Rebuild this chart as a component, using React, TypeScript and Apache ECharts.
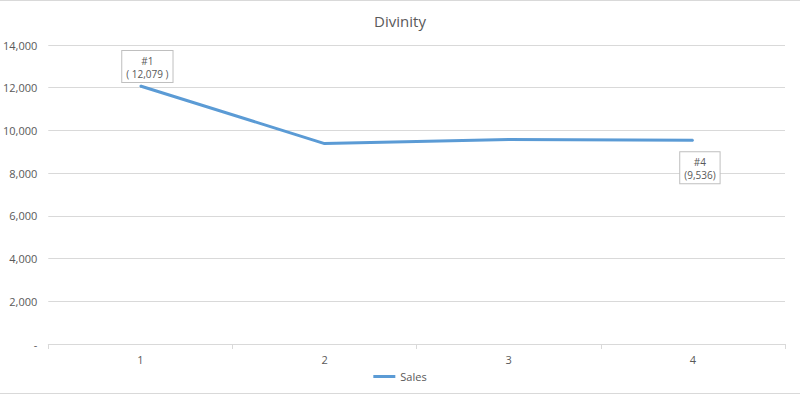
import React, { useEffect, useRef } from "react";
import * as echarts from "echarts";

const categories = ["1", "2", "3", "4"];
const salesValues = [12079, 9385, 9580, 9536];
const seriesName = "Sales";
const titleText = "Divinity";
const yMin = 0;
const yMax = 14000;
const yInterval = 2000;

const fmt = (v: number) => (v === 0 ? "-" : v.toLocaleString("en-US"));

export default function App() {
  const ref = useRef<HTMLDivElement>(null);
  useEffect(() => {
    if (!ref.current) return;
    const chart = echarts.init(ref.current, null, { renderer: "svg" });
    const font = "'Open Sans', 'Noto Sans', sans-serif";
    const last = salesValues.length - 1;
    chart.setOption({
      animation: false,
      textStyle: { fontFamily: font },
      title: {
        text: titleText,
        left: "center",
        top: 8,
        textStyle: { fontSize: 15, fontWeight: "normal", color: "#595959", fontFamily: font },
      },
      legend: {
        bottom: 8,
        left: "center",
        data: [{ name: seriesName, icon: "rect" }],
        itemWidth: 22,
        itemHeight: 3,
        itemGap: 4,
        textStyle: { fontSize: 11, color: "#595959", fontFamily: font },
      },
      grid: { left: 46, right: 15, top: 45, bottom: 51, containLabel: false },
      xAxis: {
        type: "category",
        data: categories,
        boundaryGap: true,
        axisLine: { lineStyle: { color: "#d9d9d9", width: 1 } },
        axisTick: { show: true, length: 5, lineStyle: { color: "#d9d9d9" } },
        axisLabel: { color: "#595959", fontSize: 11, margin: 10, fontFamily: font },
      },
      yAxis: {
        type: "value",
        min: yMin,
        max: yMax,
        interval: yInterval,
        axisLine: { show: false },
        axisTick: { show: false },
        splitLine: { lineStyle: { color: "#d9d9d9", width: 1 } },
        axisLabel: {
          color: "#595959",
          fontSize: 11,
          margin: 11,
          fontFamily: font,
          formatter: (v: number) => fmt(v),
        },
      },
      series: [
        {
          name: seriesName,
          type: "line",
          data: salesValues.map((v, i) => {
            const item: any = { value: v };
            if (i === 0 || i === last) {
              item.label = {
                show: true,
                position: i === 0 ? "top" : "bottom",
                distance: i === 0 ? 3 : 11,
                offset: [7, 0],
                formatter: i === 0 ? `#${i + 1}\n( ${fmt(v)} )` : `#${i + 1}\n(${fmt(v)})`,
                backgroundColor: "#ffffff",
                borderColor: "#bfbfbf",
                borderWidth: 1,
                padding: [3, 4, 2, 4],
                color: "#595959",
                fontSize: 10,
                lineHeight: 13,
                align: "center",
                fontFamily: font,
              };
            }
            return item;
          }),
          showSymbol: true,
          symbol: "circle",
          symbolSize: 2,
          lineStyle: { color: "#5b9bd5", width: 3 },
          itemStyle: { color: "#5b9bd5" },
          emphasis: { disabled: true },
        },
      ],
      graphic: [
        { type: "line", shape: { x1: 0, y1: 0.5, x2: 800, y2: 0.5 }, style: { stroke: "#d9d9d9", lineWidth: 1 } },
        { type: "line", shape: { x1: 0, y1: 393.5, x2: 800, y2: 393.5 }, style: { stroke: "#d9d9d9", lineWidth: 1 } },
      ],
    });
    return () => chart.dispose();
  }, []);
  return (
    <div
      ref={ref}
      style={{ position: "fixed", left: 0, top: 0, width: 800, height: 395, background: "#fff" }}
    />
  );
}
